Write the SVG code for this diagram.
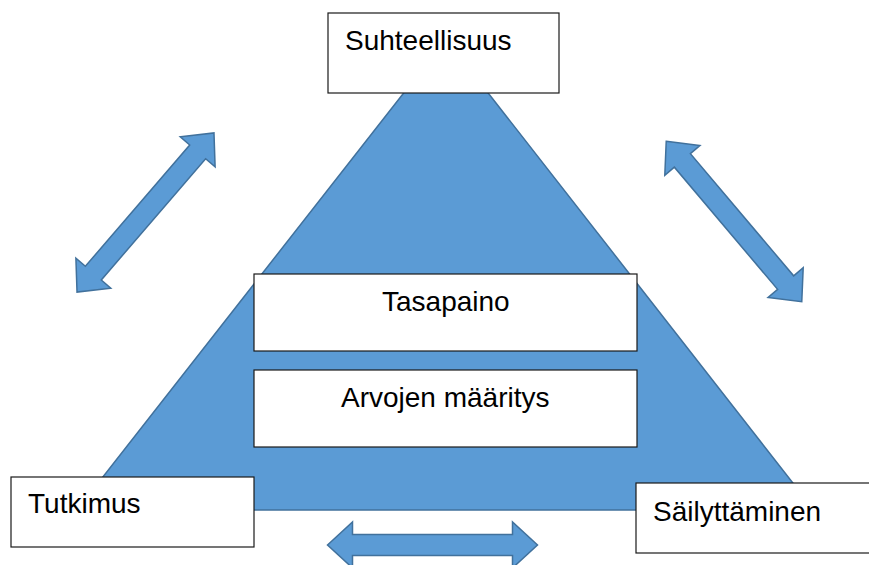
<svg xmlns="http://www.w3.org/2000/svg" xmlns:xlink="http://www.w3.org/1999/xlink" width="869" height="565" viewBox="0 0 869 565">
<style>
.blue{fill:#5B9BD5;stroke:#41719C;stroke-width:1.5;stroke-linejoin:miter}
.box{fill:#FFFFFF;stroke:#1a1a1a;stroke-width:1.2}
.lbl{font-family:"Liberation Sans",Arial,sans-serif;font-size:28px;fill:#000}
</style>
<defs>
<path id="dbl" d="M -105 0 L -80 -23 L -80 -10.5 L 80 -10.5 L 80 -23 L 105 0 L 80 23 L 80 10.5 L -80 10.5 L -80 23 Z"/>
</defs>
<rect width="869" height="565" fill="#FFFFFF"/>
<g id="triangle">
<polygon class="blue" points="446,39 814,510 77,510"/>
</g>
<g id="connectors">
<use xlink:href="#dbl" class="blue" transform="translate(145.5,212.5) rotate(-49.3)"/>
<use xlink:href="#dbl" class="blue" transform="translate(734,221.5) rotate(49.8)"/>
<use xlink:href="#dbl" class="blue" transform="translate(432.5,545)"/>
</g>
<g id="suhteellisuus">
<rect class="box" x="328" y="13" width="231" height="80"/>
<text class="lbl" x="345" y="50">Suhteellisuus</text>
</g>
<g id="tasapaino">
<rect class="box" x="254" y="274" width="383" height="77"/>
<text class="lbl" x="382" y="311">Tasapaino</text>
</g>
<g id="arvojen">
<rect class="box" x="254" y="370" width="383" height="77"/>
<text class="lbl" x="341" y="407">Arvojen määritys</text>
</g>
<g id="tutkimus">
<rect class="box" x="11" y="477" width="243" height="70"/>
<text class="lbl" x="28" y="513">Tutkimus</text>
</g>
<g id="sailyttaminen">
<rect class="box" x="636" y="483" width="240" height="70"/>
<text class="lbl" x="653" y="521">Säilyttäminen</text>
</g>
</svg>
